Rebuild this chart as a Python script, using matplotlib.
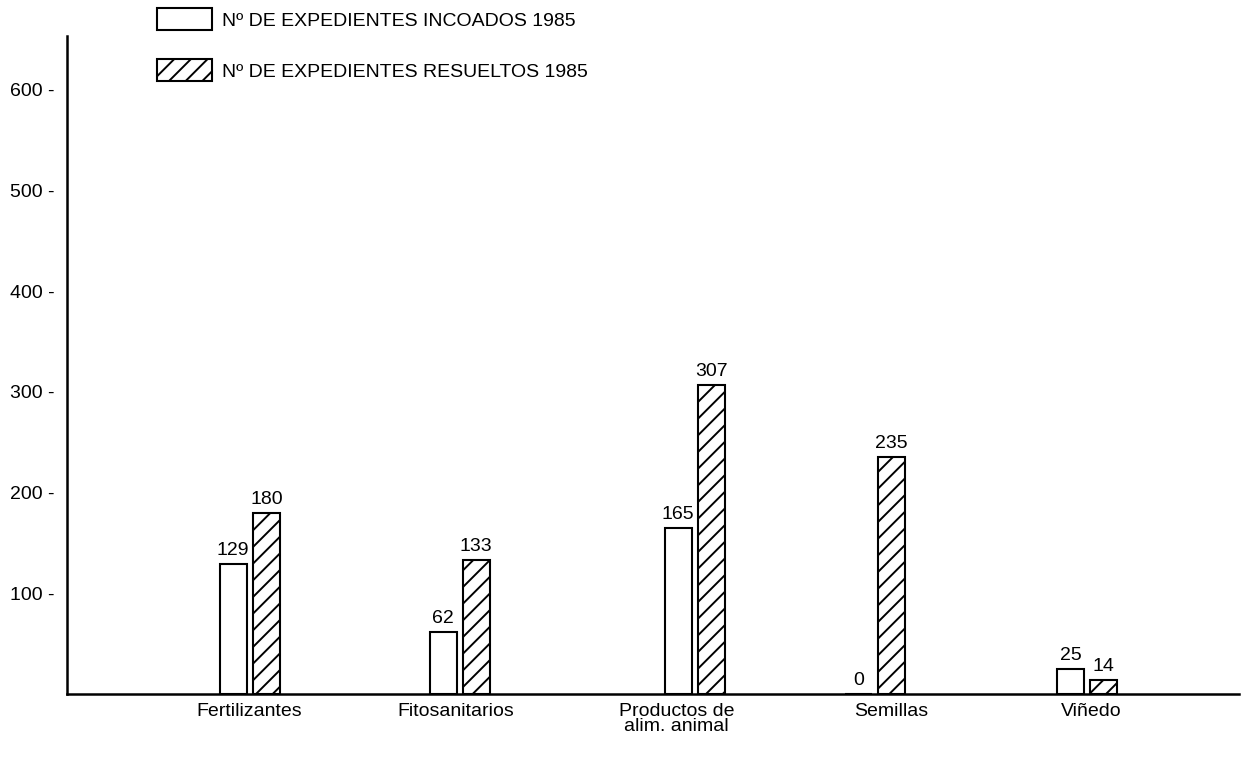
import matplotlib.pyplot as plt
from matplotlib.patches import Patch

plt.rcParams["font.family"] = ["Liberation Sans", "DejaVu Sans"]
plt.rcParams["hatch.linewidth"] = 1.4

categories = ["Fertilizantes", "Fitosanitarios", "Productos de\nalim. animal", "Semillas", "Viñedo"]
incoados = [129, 62, 165, 0, 25]
resueltos = [180, 133, 307, 235, 14]
y_ticks = [100, 200, 300, 400, 500, 600]
legend_labels = ["Nº DE EXPEDIENTES INCOADOS 1985", "Nº DE EXPEDIENTES RESUELTOS 1985"]

# group centres and label centres (layout only, the source spacing is uneven)
group_x = [1.0, 2.0, 3.12, 3.98, 4.99]
label_x = [0.995, 1.981, 3.034, 4.057, 5.01]
width = 0.129
offset = 0.079

fig = plt.figure(figsize=(12.51, 7.57), dpi=100)
ax = fig.add_axes([0.0536, 0.083, 0.937, 0.869])

x_inc = [g - offset for g in group_x]
x_res = [g + offset for g in group_x]
ax.bar(x_inc, incoados, width, color="white", edgecolor="black", linewidth=1.5)
ax.bar(x_res, resueltos, width, color="white", edgecolor="black", linewidth=1.5, hatch="//")

for xi, v in zip(x_inc, incoados):
    ax.text(xi, v + 5, str(v), ha="center", va="bottom", fontsize=14)
for xi, v in zip(x_res, resueltos):
    ax.text(xi, v + 5, str(v), ha="center", va="bottom", fontsize=14)

ax.set_xlim(0.129, 5.715)
ax.set_ylim(0, 653)

ax.set_yticks(y_ticks)
ax.set_yticklabels([f"{t} -" for t in y_ticks], fontsize=14)
ax.tick_params(axis="y", length=0, pad=9)
ax.set_xticks(label_x)
ax.set_xticklabels(categories, fontsize=14, linespacing=0.9)
ax.tick_params(axis="x", length=0, pad=6)

for side in ["top", "right"]:
    ax.spines[side].set_visible(False)
ax.spines["left"].set_linewidth(1.8)
ax.spines["bottom"].set_linewidth(1.8)

handles = [
    Patch(facecolor="white", edgecolor="black", linewidth=1.5),
    Patch(facecolor="white", edgecolor="black", linewidth=1.5, hatch="//"),
]
fig.legend(handles, legend_labels, loc="upper left", bbox_to_anchor=(0.1116, 1.012),
           frameon=False, fontsize=14, handlelength=2.83, handleheight=1.35,
           labelspacing=1.5, handletextpad=0.5)

fig.savefig("out.png", dpi=100)
